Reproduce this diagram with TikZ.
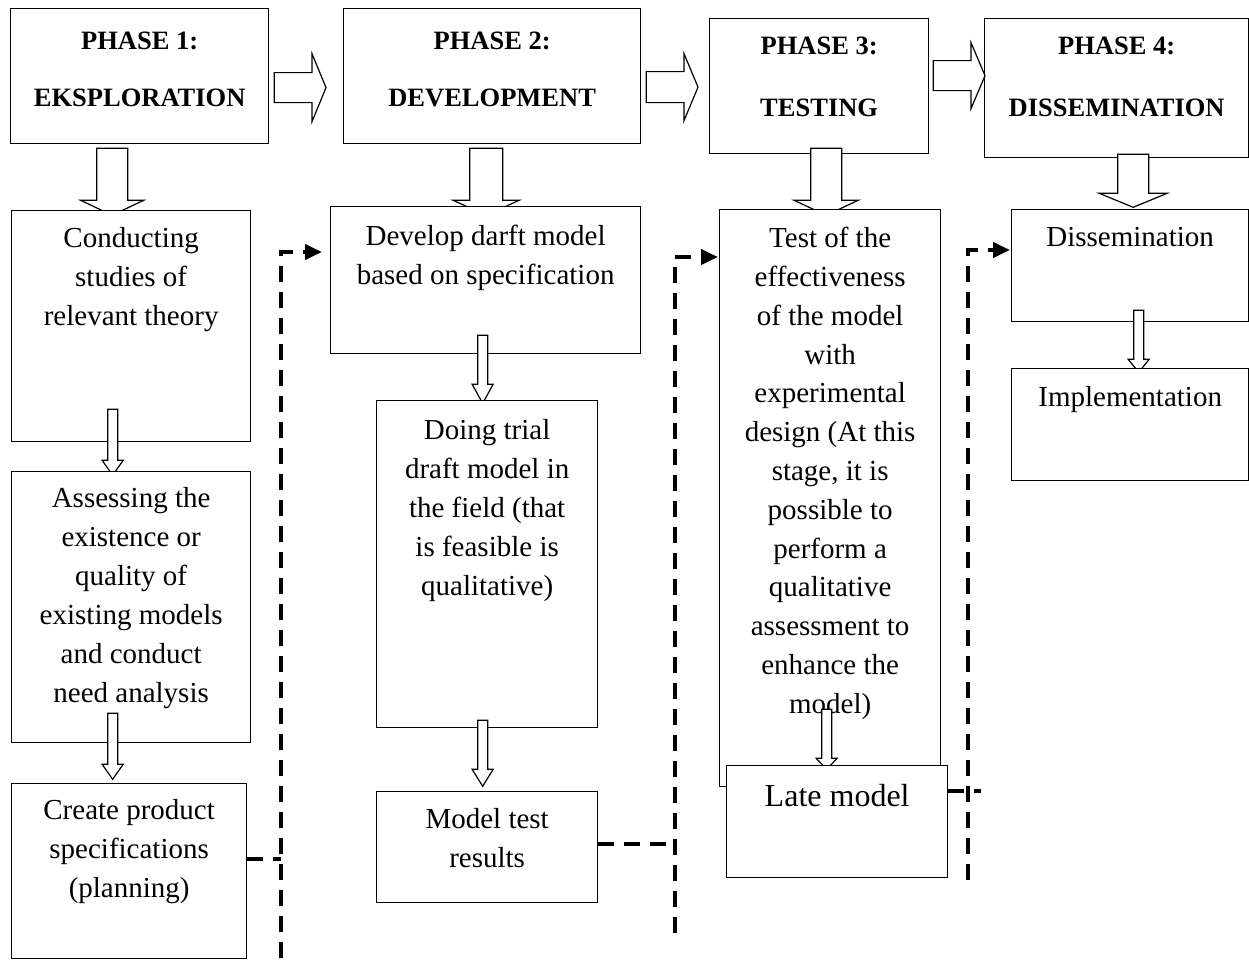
\documentclass[tikz,border=0pt]{standalone}
\usepackage{fontspec}
\setmainfont{Liberation Serif}
\usetikzlibrary{positioning,calc,arrows.meta}

% hollow block arrows: start, tip, shaft half width, head half width, head length
\newcommand{\downfat}[5]{%
  \path[hollow] let \p1=#1, \p2=#2 in
    (\x1-#3,\y1) -- (\x1-#3,\y2+#5) -- (\x1-#4,\y2+#5) -- (\x1,\y2)
    -- (\x1+#4,\y2+#5) -- (\x1+#3,\y2+#5) -- (\x1+#3,\y1) -- cycle;}
\newcommand{\rightfat}[5]{%
  \path[hollow] let \p1=#1, \p2=#2 in
    (\x1,\y1+#3) -- (\x2-#5,\y1+#3) -- (\x2-#5,\y1+#4) -- (\x2,\y1)
    -- (\x2-#5,\y1-#4) -- (\x2-#5,\y1-#3) -- (\x1,\y1-#3) -- cycle;}

\begin{document}
\begin{tikzpicture}[x=1pt,y=-1pt,
    box/.style={draw, line width=1.3pt, fill=white, anchor=north west, inner sep=0pt},
    txt/.style={align=center, inner sep=0pt, font=\fontsize{29}{39}\selectfont},
    phasetxt/.style={align=center, inner sep=0pt, font=\bfseries\fontsize{26.5}{57}\selectfont},
    hollow/.style={draw, line width=1.2pt, fill=white},
    link/.style={line width=4pt, dash pattern=on 16pt off 10pt},
    linkarrow/.style={-{Triangle[length=17pt,width=15pt]}}]
\useasboundingbox (0,0) rectangle (1249,960);

% phases
\node[box, minimum width=258pt, minimum height=135pt] (p1) at (10,8) {};
\node[phasetxt, below=24pt of p1.north] (p1t) {PHASE 1:\\EKSPLORATION};
\node[box, minimum width=297pt, minimum height=135pt] (p2) at (343,8) {};
\node[phasetxt, below=24pt of p2.north] (p2t) {PHASE 2:\\DEVELOPMENT};
\node[box, minimum width=219pt, minimum height=135pt] (p3) at (709,18) {};
\node[phasetxt, below=19pt of p3.north] (p3t) {PHASE 3:\\[5pt]TESTING};
\node[box, minimum width=264pt, minimum height=139pt] (p4) at (984,18) {};
\node[phasetxt, below=19pt of p4.north] (p4t) {PHASE 4:\\[5pt]DISSEMINATION};

\rightfat{([xshift=5pt,yshift=-11.5pt]p1.east)}{([xshift=-17pt]p2.west)}{15pt}{34pt}{14pt}
\rightfat{([xshift=5pt,yshift=-11pt]p2.east)}{([xshift=-11pt]p3.west)}{15.5pt}{33.5pt}{14pt}
\rightfat{([xshift=4pt,yshift=10.5pt]p3.east)}{([xshift=1pt]p4.west)}{15pt}{33pt}{14pt}

\downfat{([xshift=-27.5pt,yshift=-4pt]p1.south)}{([yshift=-71pt]p1.south)}{15.5pt}{31.5pt}{15pt}
\downfat{([xshift=-6pt,yshift=-4pt]p2.south)}{([yshift=-71pt]p2.south)}{16.5pt}{33pt}{15pt}
\downfat{([xshift=7pt,yshift=6pt]p3.south)}{([yshift=-61pt]p3.south)}{15.5pt}{32pt}{15pt}
\downfat{([xshift=16.5pt,yshift=4pt]p4.south)}{([yshift=-49pt]p4.south)}{15.5pt}{34pt}{14pt}

% first row of steps
\node[box, minimum width=239pt, minimum height=231pt] (conduct) at (11,210) {};
\node[txt, below=17pt of conduct.north] (conductt) {Conducting\\studies of\\relevant theory};
\node[box, minimum width=310pt, minimum height=147pt] (develop) at (330,206) {};
\node[txt, below=19pt of develop.north] (developt) {Develop darft model\\based on specification};
\node[box, minimum width=221pt, minimum height=577pt] (test) at (719,209) {};
\node[txt, below=18pt of test.north, font=\fontsize{29}{38.8}\selectfont] (testt)
  {Test of the\\effectiveness\\of the model\\with\\experimental\\design (At this\\stage, it is\\possible to\\perform a\\qualitative\\assessment to\\enhance the\\model)};
\node[box, minimum width=237pt, minimum height=112pt] (diss) at (1011,209) {};
\node[txt, below=18pt of diss.north] (disst) {Dissemination};

\downfat{([xshift=-18.5pt,yshift=33pt]conduct.south)}{([yshift=-33pt]conduct.south)}{5pt}{10.5pt}{15pt}
\downfat{([xshift=-3pt,yshift=19pt]develop.south)}{([yshift=-49pt]develop.south)}{5pt}{10.5pt}{19pt}
\downfat{([xshift=8.5pt,yshift=12pt]diss.south)}{([yshift=-50pt]diss.south)}{5pt}{10.5pt}{13pt}
\downfat{([xshift=-3.5pt,yshift=78pt]test.south)}{([yshift=18pt]test.south)}{5pt}{10.5pt}{11pt}

% second row of steps
\node[box, minimum width=239pt, minimum height=271pt] (assess) at (11,471) {};
\node[txt, below=16pt of assess.north] (assesst) {Assessing the\\existence or\\quality of\\existing models\\and conduct\\need analysis};
\node[box, minimum width=221pt, minimum height=327pt] (trial) at (376,400) {};
\node[txt, below=19pt of trial.north] (trialt) {Doing trial\\draft model in\\the field (that\\is feasible is\\qualitative)};
\node[box, minimum width=237pt, minimum height=112pt] (impl) at (1011,368) {};
\node[txt, below=18pt of impl.north] (implt) {Implementation};
\node[box, minimum width=221pt, minimum height=112pt] (late) at (726,765) {};
\node[txt, below=19pt of late.north, font=\fontsize{32}{39}\selectfont] (latet) {Late model};

\downfat{([xshift=-18.5pt,yshift=30pt]assess.south)}{([yshift=-36pt]assess.south)}{5pt}{10.5pt}{15pt}
\downfat{([xshift=-4.5pt,yshift=8pt]trial.south)}{([yshift=-58pt]trial.south)}{5pt}{10.5pt}{17pt}

% third row of steps
\node[box, minimum width=235pt, minimum height=175pt] (create) at (11,783) {};
\node[txt, below=16pt of create.north] (createt) {Create product\\specifications\\(planning)};
\node[box, minimum width=221pt, minimum height=111pt] (modeltest) at (376,791) {};
\node[txt, below=17pt of modeltest.north] (modeltestt) {Model test\\results};

% dashed links between phases
\coordinate (c1b) at (281,958);
\coordinate (c1t) at (281,252);
\coordinate (c2b) at (675,933);
\coordinate (c2t) at (675,257);
\coordinate (c3b) at (968,880);
\coordinate (c3t) at (968,250);
\draw[link] ([yshift=12.5pt]create.east) -- ([yshift=12.5pt]create.east -| c1b);
\draw[link, linkarrow, shorten >=8pt] (c1b) -- (c1t) -- (c1t -| develop.west);
\draw[link] ([yshift=3.5pt]modeltest.east) -- ([yshift=3.5pt]modeltest.east -| c2b);
\draw[link, linkarrow, shorten >=1pt] (c2b) -- (c2t) -- (c2t -| test.west);
\draw[link] ([yshift=31pt]late.east) -- ++(33,0);
\draw[link, linkarrow, shorten >=1pt] (c3b) -- (c3t) -- (c3t -| diss.west);
\end{tikzpicture}
\end{document}
